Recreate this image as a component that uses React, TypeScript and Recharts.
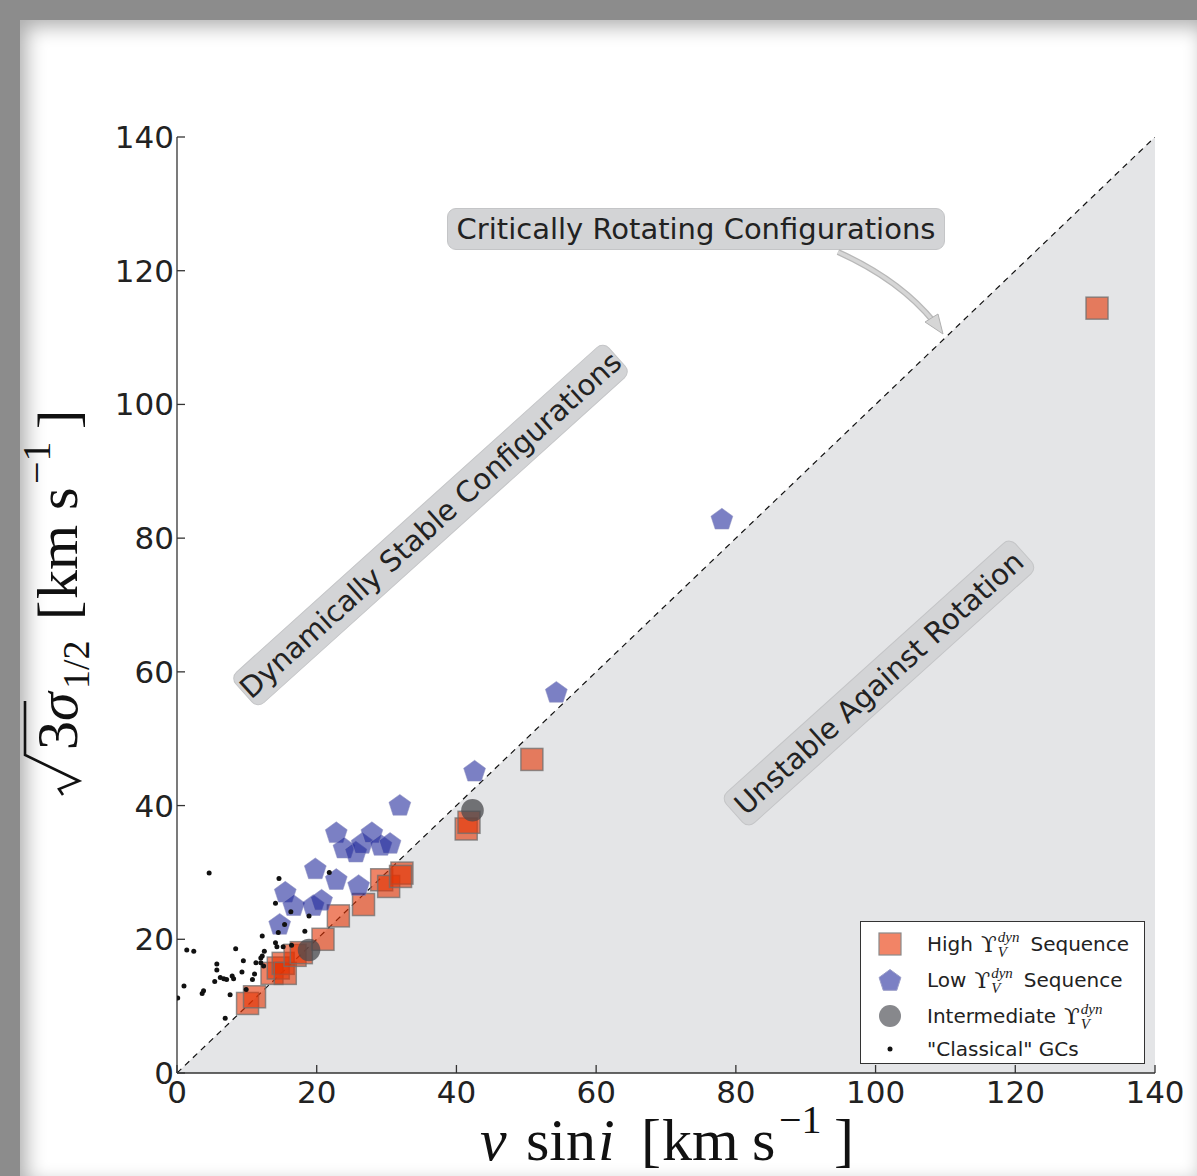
import React from 'react';
import { ComposedChart, Scatter, Area, XAxis, YAxis, Legend } from 'recharts';

// axis ticks (km/s)
const axisTicks = [0, 20, 40, 60, 80, 100, 120, 140];

// line of critical rotation, v sin i = sqrt(3) sigma
const criticalLine = [
  { x: 0, y: 0 },
  { x: 140, y: 140 },
];

const highSequence = [
  { x: 10.1, y: 10.4 }, { x: 11.1, y: 11.4 }, { x: 13.6, y: 14.9 }, { x: 14.5, y: 15.7 },
  { x: 15.2, y: 16.4 }, { x: 15.5, y: 14.9 }, { x: 16.9, y: 17.6 }, { x: 17.8, y: 18.0 },
  { x: 20.9, y: 20.0 }, { x: 23.1, y: 23.5 }, { x: 26.7, y: 25.2 }, { x: 29.3, y: 28.9 },
  { x: 30.3, y: 27.9 }, { x: 32.2, y: 29.9 }, { x: 32.0, y: 29.4 }, { x: 41.4, y: 36.5 },
  { x: 41.8, y: 37.5 }, { x: 50.8, y: 46.9 }, { x: 131.7, y: 114.4 },
];

const lowSequence = [
  { x: 31.9, y: 40.1 }, { x: 22.8, y: 36.0 }, { x: 23.9, y: 33.7 }, { x: 25.6, y: 33.1 },
  { x: 26.5, y: 34.4 }, { x: 27.9, y: 36.0 }, { x: 29.2, y: 34.1 }, { x: 30.5, y: 34.4 },
  { x: 19.8, y: 30.6 }, { x: 22.8, y: 29.0 }, { x: 26.0, y: 28.1 }, { x: 15.5, y: 27.1 },
  { x: 16.7, y: 25.1 }, { x: 19.5, y: 25.1 }, { x: 20.7, y: 25.9 }, { x: 14.7, y: 22.3 },
  { x: 42.6, y: 45.2 }, { x: 54.3, y: 57.0 }, { x: 78.0, y: 82.9 },
];

const intermediate = [
  { x: 18.9, y: 18.4 },
  { x: 42.3, y: 39.3 },
];

const classicalGCs = [
  { x: 4.6, y: 29.9 }, { x: 14.6, y: 29.1 }, { x: 21.8, y: 30.0 }, { x: 14.1, y: 25.4 },
  { x: 16.3, y: 24.1 }, { x: 18.9, y: 23.5 }, { x: 15.4, y: 22.2 }, { x: 14.5, y: 21.0 },
  { x: 18.3, y: 21.2 }, { x: 12.2, y: 20.5 }, { x: 14.1, y: 19.5 }, { x: 14.3, y: 18.9 },
  { x: 15.2, y: 18.9 }, { x: 16.4, y: 19.1 }, { x: 8.4, y: 18.6 }, { x: 1.4, y: 18.4 },
  { x: 2.4, y: 18.2 }, { x: 12.5, y: 18.2 }, { x: 12.2, y: 17.5 }, { x: 12.0, y: 17.2 },
  { x: 9.5, y: 16.8 }, { x: 5.7, y: 16.3 }, { x: 11.3, y: 16.5 }, { x: 12.0, y: 16.5 },
  { x: 12.4, y: 16.0 }, { x: 5.7, y: 15.4 }, { x: 9.3, y: 15.1 }, { x: 11.1, y: 14.8 },
  { x: 7.9, y: 14.5 }, { x: 8.1, y: 14.1 }, { x: 6.2, y: 14.3 }, { x: 6.7, y: 14.1 },
  { x: 7.1, y: 14.0 }, { x: 10.8, y: 14.0 }, { x: 5.4, y: 13.7 }, { x: 1.0, y: 13.0 },
  { x: 3.8, y: 12.3 }, { x: 3.6, y: 11.9 }, { x: 9.9, y: 12.5 }, { x: 7.6, y: 11.7 },
  { x: 0.1, y: 11.2 }, { x: 6.9, y: 8.2 },
];

const SQUARE_FILL = 'rgb(228,50,2)';
const PENTA_FILL = 'rgb(35,43,157)';
const CIRCLE_FILL = '#4a4a4e';
const TICK_FONT = '"DejaVu Sans", sans-serif';
const SERIF = '"Liberation Serif", "DejaVu Serif", serif';

const pentagonPoints = (cx: number, cy: number, r: number) => {
  const pts = [];
  for (let i = 0; i < 5; i++) {
    const a = -Math.PI / 2 + (i * 2 * Math.PI) / 5;
    pts.push(`${cx + r * Math.cos(a)},${cy + r * Math.sin(a)}`);
  }
  return pts.join(' ');
};

const SquareMark = (props: any) => {
  const { cx, cy } = props;
  if (cx == null || cy == null) return null;
  return (
    <rect x={cx - 11} y={cy - 11} width={22} height={22} fill={SQUARE_FILL} fillOpacity={0.6}
      stroke="#6f6f6f" strokeOpacity={0.75} strokeWidth={1.5} />
  );
};

const PentagonMark = (props: any) => {
  const { cx, cy } = props;
  if (cx == null || cy == null) return null;
  return (
    <polygon points={pentagonPoints(cx, cy + 1, 11.5)} fill={PENTA_FILL} fillOpacity={0.6}
      stroke="#8d90c0" strokeOpacity={0.5} strokeWidth={1} />
  );
};

const CircleMark = (props: any) => {
  const { cx, cy } = props;
  if (cx == null || cy == null) return null;
  return <circle cx={cx} cy={cy} r={11.3} fill={CIRCLE_FILL} fillOpacity={0.75} />;
};

const DotMark = (props: any) => {
  const { cx, cy } = props;
  if (cx == null || cy == null) return null;
  return <circle cx={cx} cy={cy} r={2.5} fill="#111" />;
};

const BottomTick = (props: any) => {
  const { x, y, payload } = props;
  return (
    <g>
      <line x1={x} y1={y} x2={x} y2={y - 8} stroke="#333" strokeWidth={1.3} />
      <text x={x} y={y + 30} textAnchor="middle" fontFamily={TICK_FONT} fontSize={31} fill="#222">
        {payload.value}
      </text>
    </g>
  );
};

const LeftTick = (props: any) => {
  const { x, y, payload } = props;
  return (
    <g>
      <line x1={x} y1={y} x2={x + 8} y2={y} stroke="#333" strokeWidth={1.3} />
      <text x={x - 3} y={y + 11} textAnchor="end" fontFamily={TICK_FONT} fontSize={31} fill="#222">
        {payload.value}
      </text>
    </g>
  );
};

const TopTick = (props: any) => {
  const { x, y } = props;
  return <line x1={x} y1={y} x2={x} y2={y + 8} stroke="#333" strokeWidth={1.3} />;
};

const RightTick = (props: any) => {
  const { x, y } = props;
  return <line x1={x} y1={y} x2={x - 8} y2={y} stroke="#333" strokeWidth={1.3} />;
};

const Upsilon = () => (
  <span style={{ display: 'inline-flex', alignItems: 'center', margin: '0 11px 0 8px' }}>
    <span style={{ fontFamily: '"DejaVu Serif", serif', fontSize: 23 }}>ϒ</span>
    <span style={{ display: 'inline-flex', flexDirection: 'column', fontFamily: SERIF, fontStyle: 'italic', fontSize: 15, lineHeight: '12px', marginLeft: 1 }}>
      <span>dyn</span>
      <span style={{ marginTop: 3 }}>V</span>
    </span>
  </span>
);

const legendRows = [
  { key: 'high', pre: 'High', post: 'Sequence' },
  { key: 'low', pre: 'Low', post: 'Sequence' },
  { key: 'mid', pre: 'Intermediate', post: '' },
  { key: 'gc', pre: '"Classical" GCs', post: null },
];

const LegendSymbol = ({ kind }: { kind: string }) => (
  <svg width={30} height={30}>
    {kind === 'high' && <rect x={4} y={4} width={22} height={22} fill="#f28466" stroke="#8a8a8a" strokeWidth={1.2} />}
    {kind === 'low' && <polygon points={pentagonPoints(15, 16, 11.5)} fill="#7b80c4" stroke="#9a9dc8" strokeWidth={1} />}
    {kind === 'mid' && <circle cx={15} cy={15} r={11} fill="#87888c" />}
    {kind === 'gc' && <circle cx={15} cy={15} r={2.5} fill="#111" />}
  </svg>
);

const renderLegend = () => (
  <div style={{ width: 285, height: 143, boxSizing: 'border-box', border: '1.5px solid #333', background: '#fff', padding: '4px 0 0 0', fontFamily: TICK_FONT, fontSize: 20, color: '#222' }}>
    {legendRows.map((r) => (
      <div key={r.key} style={{ display: 'flex', alignItems: 'center', height: r.key === 'gc' ? 30 : 36 }}>
        <div style={{ width: 58, display: 'flex', justifyContent: 'center' }}>
          <LegendSymbol kind={r.key} />
        </div>
        <span style={{ marginLeft: 8, whiteSpace: 'nowrap', display: 'inline-flex', alignItems: 'center' }}>
          {r.pre}
          {r.post !== null && <Upsilon />}
          {r.post}
        </span>
      </div>
    ))}
  </div>
);

const boxStyle: React.CSSProperties = {
  position: 'absolute',
  background: '#d3d4d6',
  border: '1px solid #c4c5c7',
  borderRadius: 9,
  fontFamily: TICK_FONT,
  fontSize: 29,
  color: '#222',
  whiteSpace: 'nowrap',
  display: 'flex',
  alignItems: 'center',
  justifyContent: 'center',
  boxSizing: 'border-box',
};

const RotBox = ({ text, cx, cy, w, angle }: { text: string; cx: number; cy: number; w: number; angle: number }) => (
  <div style={{ ...boxStyle, left: cx - w / 2, top: cy - 21, width: w, height: 42, transform: `rotate(${angle}deg)` }}>
    {text}
  </div>
);

const App = () => {
  return (
    <div style={{ position: 'absolute', left: 0, top: 0, width: 1197, height: 1176, background: '#8c8c8c', overflow: 'hidden' }}>
      <div style={{ position: 'absolute', left: 20, top: 20, width: 1190, height: 1170, background: '#fff', boxShadow: 'inset 0 0 20px 6px rgba(0,0,0,0.33)' }} />
      <div style={{ position: 'absolute', left: 0, top: 0 }}>
        <ComposedChart width={1197} height={1176} data={criticalLine} margin={{ top: 137, right: 42, bottom: 63, left: 117 }}>
          <XAxis xAxisId="b" type="number" dataKey="x" domain={[0, 140]} ticks={axisTicks} allowDataOverflow
            height={40} tickSize={0} tickMargin={0} tick={<BottomTick />} axisLine={{ stroke: '#333', strokeWidth: 1.3 }} tickLine={false} />
          <XAxis xAxisId="t" orientation="top" type="number" dataKey="x" domain={[0, 140]} ticks={axisTicks} allowDataOverflow
            height={0} tickSize={0} tickMargin={0} tick={<TopTick />} axisLine={{ stroke: '#333', strokeWidth: 1.3 }} tickLine={false} />
          <YAxis yAxisId="l" type="number" dataKey="y" domain={[0, 140]} ticks={axisTicks} allowDataOverflow
            width={60} tickSize={0} tickMargin={0} tick={<LeftTick />} axisLine={{ stroke: '#333', strokeWidth: 1.3 }} tickLine={false} />
          <YAxis yAxisId="r" orientation="right" type="number" dataKey="y" domain={[0, 140]} ticks={axisTicks} allowDataOverflow
            width={0} tickSize={0} tickMargin={0} tick={<RightTick />} axisLine={{ stroke: '#333', strokeWidth: 1.3 }} tickLine={false} />
          <Area xAxisId="b" yAxisId="l" type="linear" dataKey="y" stroke="#111" strokeWidth={1.2} strokeDasharray="6 5"
            fill="#e4e5e7" fillOpacity={1} dot={false} activeDot={false} isAnimationActive={false} />
          <Scatter xAxisId="b" yAxisId="l" name="High" data={highSequence} shape={<SquareMark />} isAnimationActive={false} />
          <Scatter xAxisId="b" yAxisId="l" name="Low" data={lowSequence} shape={<PentagonMark />} isAnimationActive={false} />
          <Scatter xAxisId="b" yAxisId="l" name="Intermediate" data={intermediate} shape={<CircleMark />} isAnimationActive={false} />
          <Scatter xAxisId="b" yAxisId="l" name="Classical" data={classicalGCs} shape={<DotMark />} isAnimationActive={false} />
          <Legend layout="vertical" align="center" verticalAlign="middle" content={renderLegend}
            wrapperStyle={{ left: 860, top: 921, width: 285, height: 143 }} />
        </ComposedChart>
      </div>

      {/* annotations */}
      <div style={{ ...boxStyle, left: 447, top: 208, width: 498, height: 42 }}>Critically Rotating Configurations</div>
      <RotBox text="Dynamically Stable Configurations" cx={430} cy={525} w={503} angle={-42} />
      <RotBox text="Unstable Against Rotation" cx={879} cy={683} w={390} angle={-42} />

      <svg width={1197} height={1176} style={{ position: 'absolute', left: 0, top: 0, pointerEvents: 'none' }}>
        <path d="M 838 252 Q 900 280 934 322" fill="none" stroke="#b8b8b8" strokeWidth={6} />
        <path d="M 838 252 Q 900 280 934 322" fill="none" stroke="#d6d6d6" strokeWidth={3.5} />
        <polygon points="943,334 925,322 938,314" fill="#d6d6d6" stroke="#b0b0b0" strokeWidth={1} />

        {/* x axis label */}
        <text y={1160} fontFamily={SERIF} fontSize={60} fill="#111">
          <tspan x={480} fontStyle="italic">v</tspan>
          <tspan x={526}>sin</tspan>
          <tspan x={598} fontStyle="italic">i</tspan>
          <tspan x={641}>[</tspan>
          <tspan x={662}>km</tspan>
          <tspan x={752}>s</tspan>
          <tspan x={779} dy={-27} fontSize={40}>−1</tspan>
          <tspan x={834} dy={27}>]</tspan>
        </text>

        {/* y axis label */}
        <g transform="translate(77, 795) rotate(-90)">
          <path d="M 0 -14 L 6 -18 L 14 2 L 40 -52 L 94 -52" fill="none" stroke="#111" strokeWidth={2.6} strokeLinejoin="miter" />
          <text y={0} fontFamily={SERIF} fontSize={58} fill="#111">
            <tspan x={45}>3</tspan>
            <tspan x={74} fontStyle="italic">σ</tspan>
            <tspan x={106} dy={12} fontSize={38}>1/2</tspan>
            <tspan x={175} dy={-12}>[</tspan>
            <tspan x={196}>km</tspan>
            <tspan x={285}>s</tspan>
            <tspan x={311} dy={-27} fontSize={40}>−1</tspan>
            <tspan x={366} dy={27}>]</tspan>
          </text>
        </g>
      </svg>
    </div>
  );
};

export default App;
